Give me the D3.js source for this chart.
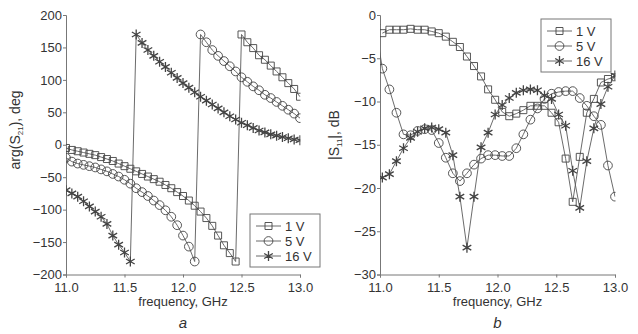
<!DOCTYPE html>
<html>
<head>
<meta charset="utf-8">
<script src="https://cdn.jsdelivr.net/npm/d3@7"></script>
<style>
  body { margin: 0; background: #fff; }
  svg { display: block; font-family: "Liberation Sans", Arial, sans-serif; }
  .tick text { font-size: 13px; fill: #333; }
  .tick line, .domain { stroke: #777; }
</style>
</head>
<body>
<svg id="chart" width="638" height="334"></svg>
<script>
// ── Panel a: transmission phase, deg (0.05 GHz steps) ──
const phaseFreq = [11.00, 11.05, 11.10, 11.15, 11.20, 11.25, 11.30, 11.35, 11.40, 11.45,
                   11.50, 11.55, 11.60, 11.65, 11.70, 11.75, 11.80, 11.85, 11.90, 11.95,
                   12.00, 12.05, 12.10, 12.15, 12.20, 12.25, 12.30, 12.35, 12.40, 12.45,
                   12.50, 12.55, 12.60, 12.65, 12.70, 12.75, 12.80, 12.85, 12.90, 12.95, 13.00];
const phase1V = [-5, -8, -10, -12, -14, -16, -19, -22, -25, -29, -33, -37, -41, -45, -49,
                 -53, -57, -62, -67, -73, -79, -86, -94, -103, -113, -125, -140, -155, -167, -180,
                 170, 158, 149, 138, 131, 122, 113, 104, 95, 86, 74];
const phase5V = [-20, -26, -29, -31, -33, -35, -38, -41, -45, -49, -54, -60, -67, -73, -79,
                 -86, -93, -101, -111, -124, -140, -157, -180,
                 170, 158, 146, 137, 129, 121, 113, 104, 97, 90, 84, 77, 72, 66, 60, 54, 48, 41];
const phase16V = [-70, -75, -80, -87, -95, -103, -111, -122, -140, -154, -166, -180,
                  170, 157, 146, 137, 128, 120, 111, 103, 95, 88, 81, 74, 68, 62, 56, 50, 44,
                  39, 34, 30, 26, 22, 19, 16, 14, 12, 10, 8, 7];

// ── Panel b: |S11|, dB ──
const s11Freq = [10.96, 11.02, 11.08, 11.14, 11.20, 11.26, 11.32, 11.38, 11.44, 11.50, 11.56,
                 11.62, 11.68, 11.74, 11.80, 11.86, 11.92, 11.98, 12.04, 12.10, 12.16,
                 12.22, 12.28, 12.34, 12.40, 12.46, 12.52, 12.58, 12.64, 12.70, 12.76,
                 12.82, 12.88, 12.94, 13.00];
const s11_1V = [null, -2.1, -1.7, -1.7, -1.7, -1.6, -1.7, -1.7, -1.9, -2.1, -2.5, -3.1, -3.7,
                -4.8, -5.9, -7.1, -8.6, -9.8, -11.2, -11.7, -11.4, -11.0, -10.5, -10.5, -10.5,
                -11.3, -12.4, -16.6, -21.6, -16.4, -11.3, -9.7, -7.8, -7.4, -7.2];
const s11_5V = [-1.1, -6.2, -8.6, -11.3, -13.8, -13.9, -13.4, -13.2, -13.3, -14.8, -16.5,
                -18.3, -19.2, -18.3, -17.3, -16.6, -16.2, -16.2, -16.3, -16.3, -15.4, -13.8,
                -12.1, -10.8, -9.7, -9.1, -8.9, -8.8, -8.8, -9.6, -10.5, -11.7, -12.7, -17.4, -21.0];
const s11_16V = [null, -18.8, -18.4, -16.9, -15.4, -14.2, -13.5, -13.1, -13.0, -13.2, -13.6,
                 -16.2, -21.0, -26.9, -21.0, -15.3, -13.6, -11.5, -10.4, -9.6, -9.0, -8.7,
                 -8.6, -8.7, -9.3, -9.7, -11.5, -12.8, -18.0, -22.3, -16.9, -13.1, -10.3, -8.3, -7.0];

const seriesLabels = ["1 V", "5 V", "16 V"];
const freqTicks = [11.0, 11.5, 12.0, 12.5, 13.0];
const phaseTicks = [-200, -150, -100, -50, 0, 50, 100, 150, 200];
const s11Ticks = [-30, -25, -20, -15, -10, -5, 0];

// ── Marker shapes: square, circle, asterisk ──
const markerTypes = [
  d3.symbol(d3.symbolSquare, 49),
  d3.symbol(d3.symbolCircle, 60),
  d3.symbol(d3.symbolAsterisk, 70)
];

const svg = d3.select("#chart");

function drawPanel(p) {
  const x = d3.scaleLinear().domain([11, 13]).range(p.xRange);
  const y = d3.scaleLinear().domain(p.yDomain).range(p.yRange);
  const g = svg.append("g");

  g.append("clipPath").attr("id", p.id + "-clip")
    .append("rect")
    .attr("x", p.xRange[0]).attr("y", p.yRange[1] - 6)
    .attr("width", p.xRange[1] - p.xRange[0] + 0.5)
    .attr("height", p.yRange[0] - p.yRange[1] + 12);

  // axes
  g.append("g")
    .attr("transform", `translate(0,${p.yRange[0]})`)
    .call(d3.axisBottom(x).tickValues(freqTicks).tickFormat(d3.format(".1f"))
      .tickSize(3).tickPadding(5));
  g.append("g")
    .attr("transform", `translate(${p.xRange[0]},0)`)
    .call(d3.axisLeft(y).tickValues(p.yTicks).tickSize(3).tickPadding(1));

  // curves
  const plot = g.append("g").attr("clip-path", `url(#${p.id}-clip)`);
  const line = d3.line()
    .defined(d => d[1] !== null)
    .x(d => x(d[0]))
    .y(d => y(d[1]));

  p.series.forEach((vals, k) => {
    const pts = vals.map((v, i) => [p.freq[i], v]);
    plot.append("path")
      .attr("d", line(pts))
      .attr("fill", "none")
      .attr("stroke", "#5a5a5a")
      .attr("stroke-width", 0.9);
    plot.selectAll(null)
      .data(pts.filter(d => d[1] !== null))
      .join("path")
      .attr("transform", d => `translate(${x(d[0])},${y(d[1])})`)
      .attr("d", markerTypes[k])
      .attr("fill", "none")
      .attr("stroke", "#444")
      .attr("stroke-width", k === 2 ? 1.3 : 0.9);
  });

  // axis titles
  g.append("text")
    .attr("x", (p.xRange[0] + p.xRange[1]) / 2)
    .attr("y", 306)
    .attr("text-anchor", "middle")
    .attr("font-size", 13)
    .attr("fill", "#333")
    .text("frequency, GHz");

  g.append("text")
    .attr("x", (p.xRange[0] + p.xRange[1]) / 2)
    .attr("y", 328)
    .attr("text-anchor", "middle")
    .attr("font-size", 15)
    .attr("font-style", "italic")
    .attr("fill", "#333")
    .text(p.panel);

  const yt = g.append("text")
    .attr("transform", `translate(${p.yTitleX},${p.yTitleY}) rotate(-90)`)
    .attr("text-anchor", "middle")
    .attr("font-size", 14)
    .attr("fill", "#333");
  yt.append("tspan").text(p.yTitle[0]);
  yt.append("tspan").attr("font-size", 8).attr("dy", 3).text(p.yTitle[1]);
  yt.append("tspan").attr("dy", -3).text(p.yTitle[2]);

  // legend
  const lg = g.append("g").attr("transform", `translate(${p.legend[0]},${p.legend[1]})`);
  lg.append("rect")
    .attr("width", 70).attr("height", 53)
    .attr("fill", "#fff").attr("stroke", "#777");
  seriesLabels.forEach((lab, k) => {
    const ly = 12 + k * 15;
    lg.append("line")
      .attr("x1", 6).attr("x2", 31).attr("y1", ly).attr("y2", ly)
      .attr("stroke", "#5a5a5a").attr("stroke-width", 0.9);
    lg.append("path")
      .attr("transform", `translate(18.5,${ly})`)
      .attr("d", markerTypes[k])
      .attr("fill", "none").attr("stroke", "#444")
      .attr("stroke-width", k === 2 ? 1.3 : 0.9);
    lg.append("text")
      .attr("x", 35).attr("y", ly).attr("dy", "0.35em")
      .attr("font-size", 13).attr("fill", "#333")
      .text(lab);
  });
}

drawPanel({
  id: "pa", panel: "a",
  xRange: [66, 300], yDomain: [-200, 200], yRange: [274.5, 15],
  yTicks: phaseTicks, freq: phaseFreq,
  series: [phase1V, phase5V, phase16V],
  yTitle: ["arg(S", "21", "), deg"], yTitleX: 20, yTitleY: 130,
  legend: [250, 214]
});

drawPanel({
  id: "pb", panel: "b",
  xRange: [380, 615], yDomain: [-30, 0], yRange: [274.5, 15],
  yTicks: s11Ticks, freq: s11Freq,
  series: [s11_1V, s11_5V, s11_16V],
  yTitle: ["|S", "11", "|, dB"], yTitleX: 339, yTitleY: 135,
  legend: [541, 19]
});
</script>
</body>
</html>
